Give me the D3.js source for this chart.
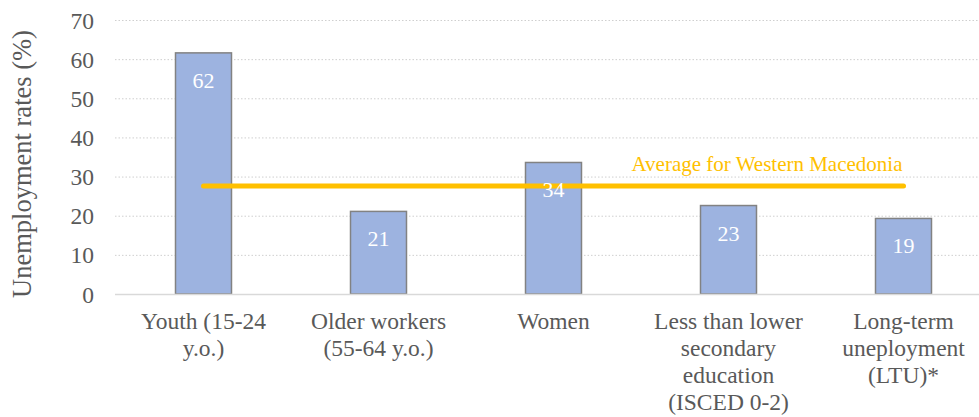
<!DOCTYPE html>
<html>
<head>
<meta charset="utf-8">
<script src="https://cdn.jsdelivr.net/npm/d3@7"></script>
<style>
    html, body { margin: 0; padding: 0; background: #fff; }
    svg { display: block; font-family: "Liberation Serif", "Times New Roman", serif; }
</style>
</head>
<body>
<div id="chart"></div>
<script>
// data
const categories = [
    ['Youth (15-24', 'y.o.)'],
    ['Older workers', '(55-64 y.o.)'],
    ['Women'],
    ['Less than lower', 'secondary', 'education', '(ISCED 0-2)'],
    ['Long-term', 'uneployment', '(LTU)*']
];
const rates = [61.6, 21.1, 33.6, 22.6, 19.3];
const rateLabels = ['62', '21', '34', '23', '19'];
const average = 27.6;
const averageLabel = 'Average for Western Macedonia';
const yTicks = [0, 10, 20, 30, 40, 50, 60, 70];

const width = 979, height = 417;
const margin = { top: 20, right: -12, bottom: 123, left: 116 };
const innerW = width - margin.left - margin.right;
const innerH = height - margin.top - margin.bottom;
const serif = '"Liberation Serif", "Times New Roman", serif';

const svg = d3.select('#chart')
    .append('svg')
    .attr('width', width)
    .attr('height', height);

const g = svg.append('g')
    .attr('transform', `translate(${margin.left},${margin.top})`);

// scales
const xScale = d3.scaleBand()
    .domain(d3.range(categories.length))
    .range([0, innerW])
    .paddingInner(0.68)
    .paddingOuter(0.34);

const yScale = d3.scaleLinear()
    .domain([0, 70])
    .range([innerH, 0]);

// gridlines (dotted)
const yGrid = d3.axisRight(yScale)
    .tickValues(yTicks.filter(t => t > 0))
    .tickSizeInner(width - margin.left + 1)
    .tickSizeOuter(0)
    .tickFormat('');
g.append('g')
    .attr('class', 'grid')
    .attr('transform', 'translate(-1,0)')
    .call(yGrid)
    .call(s => s.select('.domain').remove())
    .call(s => s.selectAll('line')
        .attr('stroke', '#cfcfcf')
        .attr('stroke-width', 1)
        .attr('stroke-dasharray', '1.5,2'));

// y axis labels
const yAxis = d3.axisLeft(yScale)
    .tickValues(yTicks)
    .tickSize(0)
    .tickPadding(22);
g.append('g')
    .call(yAxis)
    .attr('font-family', serif)
    .call(s => s.select('.domain').remove())
    .call(s => s.selectAll('text')
        .attr('fill', '#595959')
        .attr('dy', '0.34em')
        .style('font-size', '23.5px'));

// y axis title
svg.append('text')
    .attr('transform', `translate(31,${margin.top + innerH / 2 + 7}) rotate(-90)`)
    .attr('text-anchor', 'middle')
    .attr('fill', '#595959')
    .style('font-size', '26.5px')
    .text('Unemployment rates (%)');

// bars
g.selectAll('.bar')
    .data(rates)
    .enter()
    .append('rect')
    .attr('class', 'bar')
    .attr('x', (d, i) => xScale(i))
    .attr('width', xScale.bandwidth())
    .attr('y', d => yScale(d))
    .attr('height', d => innerH - yScale(d))
    .attr('fill', '#9db3e0')
    .attr('stroke', '#828282')
    .attr('stroke-width', 1.5);

// baseline
g.append('line')
    .attr('x1', -1)
    .attr('x2', width - margin.left)
    .attr('y1', innerH + 0.5)
    .attr('y2', innerH + 0.5)
    .attr('stroke', '#d9d9d9')
    .attr('stroke-width', 1.5);

// average line
const xMid = i => xScale(i) + xScale.bandwidth() / 2;
g.append('line')
    .attr('x1', xMid(0))
    .attr('x2', xMid(categories.length - 1))
    .attr('y1', yScale(average))
    .attr('y2', yScale(average))
    .attr('stroke', '#ffc000')
    .attr('stroke-width', 5)
    .attr('stroke-linecap', 'round');

g.append('text')
    .attr('x', xMid(categories.length - 1) - 1)
    .attr('y', yScale(average) - 15)
    .attr('text-anchor', 'end')
    .attr('fill', '#ffc000')
    .style('font-size', '21px')
    .text(averageLabel);

// value labels
g.selectAll('.value')
    .data(rates)
    .enter()
    .append('text')
    .attr('class', 'value')
    .attr('x', (d, i) => xMid(i))
    .attr('y', d => yScale(d) + 35)
    .attr('text-anchor', 'middle')
    .attr('fill', '#ffffff')
    .style('font-size', '22px')
    .text((d, i) => rateLabels[i]);

// category labels
const cat = g.selectAll('.cat')
    .data(categories)
    .enter()
    .append('text')
    .attr('class', 'cat')
    .attr('text-anchor', 'middle')
    .attr('fill', '#595959')
    .style('font-size', '23.5px');
cat.selectAll('tspan')
    .data((d, i) => d.map(line => ({ line, i })))
    .enter()
    .append('tspan')
    .attr('x', d => xMid(d.i))
    .attr('y', (d, j) => innerH + 35 + j * 27)
    .text(d => d.line);
</script>
</body>
</html>
